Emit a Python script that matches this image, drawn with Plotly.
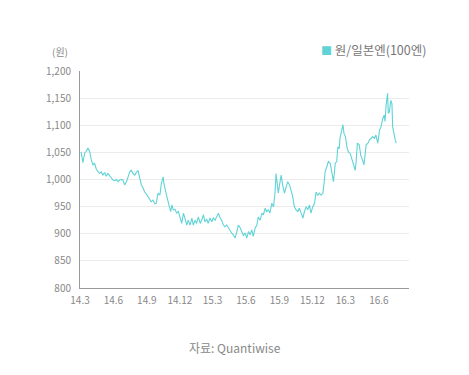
import plotly.graph_objects as go

# KRW per 100 JPY
dates = [
    "2014-03-04", "2014-03-09", "2014-03-14", "2014-03-18", "2014-03-23", "2014-03-28", "2014-04-01", "2014-04-06",
    "2014-04-10", "2014-04-15", "2014-04-20", "2014-04-24", "2014-04-29", "2014-05-03", "2014-05-08", "2014-05-12",
    "2014-05-17", "2014-05-22", "2014-05-26", "2014-05-31", "2014-06-05", "2014-06-09", "2014-06-14", "2014-06-18",
    "2014-06-23", "2014-06-27", "2014-07-02", "2014-07-07", "2014-07-11", "2014-07-16", "2014-07-20", "2014-07-25",
    "2014-07-30", "2014-08-03", "2014-08-08", "2014-08-12", "2014-08-17", "2014-08-22", "2014-08-26", "2014-08-31",
    "2014-09-04", "2014-09-09", "2014-09-13", "2014-09-18", "2014-09-23", "2014-09-27", "2014-10-02", "2014-10-07",
    "2014-10-11", "2014-10-16",
    "2014-10-18", "2014-10-24", "2014-10-28", "2014-11-02", "2014-11-06", "2014-11-09", "2014-11-13", "2014-11-18",
    "2014-11-22", "2014-11-27", "2014-12-01", "2014-12-06", "2014-12-11", "2014-12-15", "2014-12-20", "2014-12-24",
    "2014-12-29", "2015-01-03", "2015-01-07", "2015-01-12", "2015-01-16", "2015-01-21", "2015-01-26", "2015-01-30",
    "2015-02-04", "2015-02-08", "2015-02-13", "2015-02-17", "2015-02-22", "2015-02-27", "2015-03-03", "2015-03-08",
    "2015-03-13", "2015-03-17", "2015-03-22", "2015-03-26", "2015-03-31", "2015-04-04", "2015-04-09", "2015-04-14",
    "2015-04-18", "2015-04-23", "2015-04-27", "2015-05-02", "2015-05-07", "2015-05-11", "2015-05-16", "2015-05-20",
    "2015-05-25", "2015-05-30", "2015-06-03", "2015-06-08", "2015-06-12", "2015-06-17", "2015-06-21", "2015-06-26",
    "2015-07-01", "2015-07-05", "2015-07-10", "2015-07-15", "2015-07-19", "2015-07-24", "2015-07-28", "2015-08-02",
    "2015-08-06", "2015-08-11", "2015-08-16", "2015-08-20", "2015-08-23", "2015-08-27", "2015-08-29", "2015-09-03",
    "2015-09-06", "2015-09-10", "2015-09-15", "2015-09-20", "2015-09-24", "2015-09-29", "2015-10-03", "2015-10-08",
    "2015-10-12", "2015-10-17", "2015-10-22", "2015-10-26", "2015-10-31", "2015-11-05", "2015-11-09", "2015-11-14",
    "2015-11-18", "2015-11-23", "2015-11-27", "2015-12-02", "2015-12-07", "2015-12-11", "2015-12-16", "2015-12-20",
    "2015-12-25", "2015-12-30", "2016-01-02",
    "2016-01-05", "2016-01-10", "2016-01-14", "2016-01-19", "2016-01-23", "2016-01-28", "2016-02-02", "2016-02-06",
    "2016-02-09", "2016-02-13", "2016-02-15", "2016-02-20", "2016-02-23", "2016-02-26", "2016-03-01", "2016-03-05",
    "2016-03-09", "2016-03-14", "2016-03-19", "2016-03-23", "2016-03-28", "2016-03-30", "2016-04-03", "2016-04-08",
    "2016-04-12", "2016-04-17", "2016-04-21", "2016-04-24", "2016-04-27", "2016-05-02", "2016-05-06", "2016-05-11",
    "2016-05-15", "2016-05-20", "2016-05-24", "2016-05-29", "2016-06-03", "2016-06-07", "2016-06-12", "2016-06-16",
    "2016-06-18", "2016-06-21", "2016-06-25", "2016-06-27", "2016-06-30", "2016-07-04", "2016-07-07", "2016-07-09",
    "2016-07-13", "2016-07-16", "2016-07-19",
]

krw_per_100jpy = [
    1051, 1031, 1049, 1052, 1058, 1051, 1036, 1027,
    1030, 1019, 1014, 1011, 1014, 1008, 1013, 1006,
    1011, 1006, 1002, 999, 998, 1000, 996, 999,
    1000, 999, 990, 996, 1004, 1014, 1017, 1011,
    1008, 1013, 1016, 1002, 990, 984, 977, 973,
    968, 963, 959, 962, 955, 956, 975, 971,
    993, 1005,
    993, 975, 962, 950, 941, 953, 944, 945,
    938, 941, 931, 919, 938, 929, 916, 925,
    916, 929, 916, 925, 919, 931, 919, 925,
    935, 922, 927, 919, 929, 922, 929, 925,
    931, 938, 929, 925, 916, 913, 916, 910,
    907, 901, 898, 892, 904, 916, 911, 905,
    897, 901, 892, 904, 898, 907, 895, 910,
    916, 931, 925, 938, 935, 947, 941, 944,
    938, 956, 950, 975, 1011, 987, 975, 996,
    1008, 990, 975, 987, 996, 990, 981, 968,
    950, 944, 941, 947, 938, 929, 941, 950,
    944, 953, 938, 950, 956, 977, 971, 975,
    971, 975, 993,
    1014, 1024, 1033, 1030, 1011, 996, 1030, 1033,
    1060, 1057, 1076, 1094, 1101, 1085, 1079, 1060,
    1051, 1048, 1036, 1027, 1017, 1030, 1067, 1064,
    1045, 1036, 1027, 1045, 1064, 1067, 1073, 1076,
    1079, 1076, 1082, 1067, 1091, 1097, 1113, 1119,
    1107, 1137, 1159, 1122, 1125, 1146, 1140, 1097,
    1079, 1073, 1067,
]

tick_dates = ["2014-03-01", "2014-06-01", "2014-09-01", "2014-12-01", "2015-03-01",
              "2015-06-01", "2015-09-01", "2015-12-01", "2016-03-01", "2016-06-01"]
tick_labels = ["14.3", "14.6", "14.9", "14.12", "15.3", "15.6", "15.9", "15.12", "16.3", "16.6"]

series_name = "원/일본엔(100엔)"
line_color = "#5fd3d6"
font_family = "Noto Sans CJK KR, Noto Sans, sans-serif"

fig = go.Figure()
fig.add_trace(go.Scatter(
    x=dates, y=krw_per_100jpy, mode="lines",
    line=dict(color=line_color, width=1.1),
    showlegend=False, hoverinfo="skip",
))

fig.update_layout(
    width=461, height=367,
    margin=dict(l=72, r=60, t=63, b=87, autoexpand=False),
    paper_bgcolor="white", plot_bgcolor="white",
    font=dict(family=font_family, size=10, color="#888888"),
    showlegend=False,
    xaxis=dict(
        type="date",
        range=["2014-03-01", "2016-08-23"],
        tickvals=tick_dates, ticktext=tick_labels,
        showgrid=False, zeroline=False,
        showline=True, linecolor="#999999", linewidth=1,
        ticks="", ticklabelstandoff=3,
        tickfont=dict(size=10, color="#888888"),
    ),
    yaxis=dict(
        range=[800, 1200], dtick=50, tickformat=",",
        showgrid=True, gridcolor="#ebebeb", gridwidth=1,
        zeroline=False,
        showline=True, linecolor="#999999", linewidth=1,
        ticks="", ticklabelstandoff=6,
        tickfont=dict(size=10, color="#888888"),
    ),
    annotations=[
        dict(text="(원)", xref="paper", yref="paper", x=-0.06, y=1.09,
             xanchor="center", yanchor="middle", showarrow=False,
             font=dict(size=10, color="#888888")),
        dict(text=f"<span style='color:{line_color};font-size:11px'>■</span> {series_name}",
             xref="paper", yref="paper", x=1.058, y=1.10,
             xanchor="right", yanchor="middle", showarrow=False,
             font=dict(size=12.5, color="#777777")),
        dict(text="자료: Quantiwise", xref="paper", yref="paper", x=0.47, y=-0.272,
             xanchor="center", yanchor="middle", showarrow=False,
             font=dict(size=12, color="#888888")),
    ],
)

fig.write_html("out.html")
